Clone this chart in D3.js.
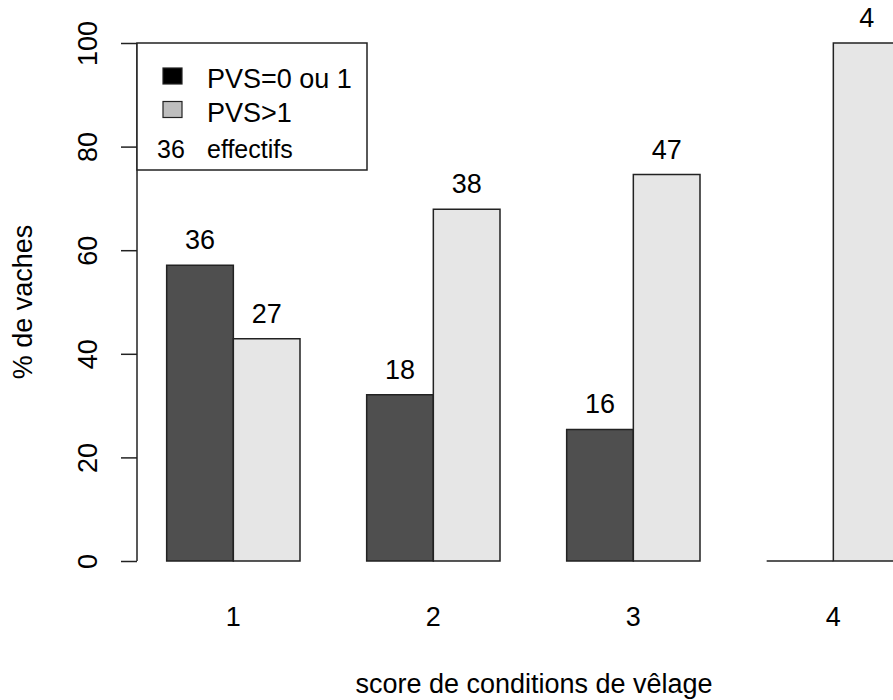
<!DOCTYPE html>
<html>
<head>
<meta charset="utf-8">
<script src="https://cdn.jsdelivr.net/npm/d3@7"></script>
<style>
  html, body { margin: 0; padding: 0; background: #fff; }
  svg { display: block; font-family: "Liberation Sans", Arial, sans-serif; }
</style>
</head>
<body>
<svg id="chart" width="893" height="700"></svg>
<script>
// ---- data ----
const categories = ["1", "2", "3", "4"];
const seriesNames = ["PVS=0 ou 1", "PVS>1"];
const pctLow  = [57.1, 32.1, 25.4, 0];     // % PVS=0 ou 1
const pctHigh = [42.9, 67.9, 74.6, 100];   // % PVS>1
const nLow  = [36, 18, 16, null];          // effectifs PVS=0 ou 1
const nHigh = [27, 38, 47, 4];             // effectifs PVS>1
const yTicks = [0, 20, 40, 60, 80, 100];

const W = 893, H = 700;
const svg = d3.select("#chart");
const FS = 27;

const y = d3.scaleLinear().domain([0, 100]).range([561, 43]);
const xGroup = d3.scaleBand().domain(categories)
  .range([166.67, 900]).paddingInner(1 / 3).paddingOuter(0);
const xSub = d3.scaleBand().domain(seriesNames)
  .range([0, xGroup.bandwidth()]).padding(0);

const fills = { "PVS=0 ou 1": "#4f4f4f", "PVS>1": "#e6e6e6" };
const legendFills = { "PVS=0 ou 1": "#000000", "PVS>1": "#bebebe" };

const rows = [];
categories.forEach((c, i) => {
  rows.push({ cat: c, s: seriesNames[0], v: pctLow[i], n: nLow[i] });
  rows.push({ cat: c, s: seriesNames[1], v: pctHigh[i], n: nHigh[i] });
});

// bars (paths so that zero-height bars still show their outline)
svg.append("g").selectAll("path").data(rows).join("path")
  .attr("d", d => {
    const x0 = xGroup(d.cat) + xSub(d.s), x1 = x0 + xSub.bandwidth();
    return `M${x0},${y(0)}V${y(d.v)}H${x1}V${y(0)}Z`;
  })
  .attr("fill", d => fills[d.s])
  .attr("stroke", "#222")
  .attr("stroke-width", 1.5);

// bar count labels
svg.append("g").selectAll("text").data(rows.filter(d => d.n != null)).join("text")
  .attr("x", d => xGroup(d.cat) + xSub(d.s) + xSub.bandwidth() / 2)
  .attr("y", d => y(d.v) - 16)
  .attr("text-anchor", "middle")
  .attr("font-size", FS)
  .attr("fill", "#000")
  .text(d => d.n);

// y axis
const yAxis = d3.axisLeft(y).tickValues(yTicks).tickSize(16).tickPadding(6);
const gy = svg.append("g").attr("transform", "translate(137,0)").call(yAxis);
gy.select(".domain").attr("d", `M0,${y(0)}V${y(100)}`).attr("stroke", "#222").attr("stroke-width", 1.5);
gy.selectAll(".tick line").attr("stroke", "#222").attr("stroke-width", 1.5);
gy.selectAll(".tick text")
  .attr("font-size", FS)
  .attr("font-family", "Liberation Sans, Arial, sans-serif")
  .attr("fill", "#000")
  .attr("transform", "rotate(-90)")
  .attr("x", 0).attr("y", -49)
  .attr("dy", "0.35em")
  .attr("text-anchor", "middle");

// x category labels
svg.append("g").selectAll("text").data(categories).join("text")
  .attr("x", d => xGroup(d) + xGroup.bandwidth() / 2)
  .attr("y", 626)
  .attr("text-anchor", "middle")
  .attr("font-size", FS)
  .text(d => d);

// axis titles
svg.append("text")
  .attr("x", 534).attr("y", 693)
  .attr("text-anchor", "middle")
  .attr("font-size", FS)
  .text("score de conditions de vêlage");

svg.append("text")
  .attr("transform", `translate(32,${(y(0) + y(100)) / 2}) rotate(-90)`)
  .attr("text-anchor", "middle")
  .attr("font-size", FS)
  .text("% de vaches");

// legend
const lg = svg.append("g");
lg.append("rect").attr("x", 137).attr("y", 43).attr("width", 230).attr("height", 127)
  .attr("fill", "#fff").attr("stroke", "#222").attr("stroke-width", 1.5);
seriesNames.forEach((s, i) => {
  lg.append("rect").attr("x", 163).attr("y", 68 + i * 33.5).attr("width", 19).attr("height", 16)
    .attr("fill", legendFills[s]).attr("stroke", "#222").attr("stroke-width", 1.2);
  lg.append("text").attr("x", 207).attr("y", 88 + i * 33.5)
    .attr("font-size", FS).text(s);
});
lg.append("text").attr("x", 157).attr("y", 158).attr("font-size", 25).text("36");
lg.append("text").attr("x", 207).attr("y", 158).attr("font-size", 25).text("effectifs");
</script>
</body>
</html>
